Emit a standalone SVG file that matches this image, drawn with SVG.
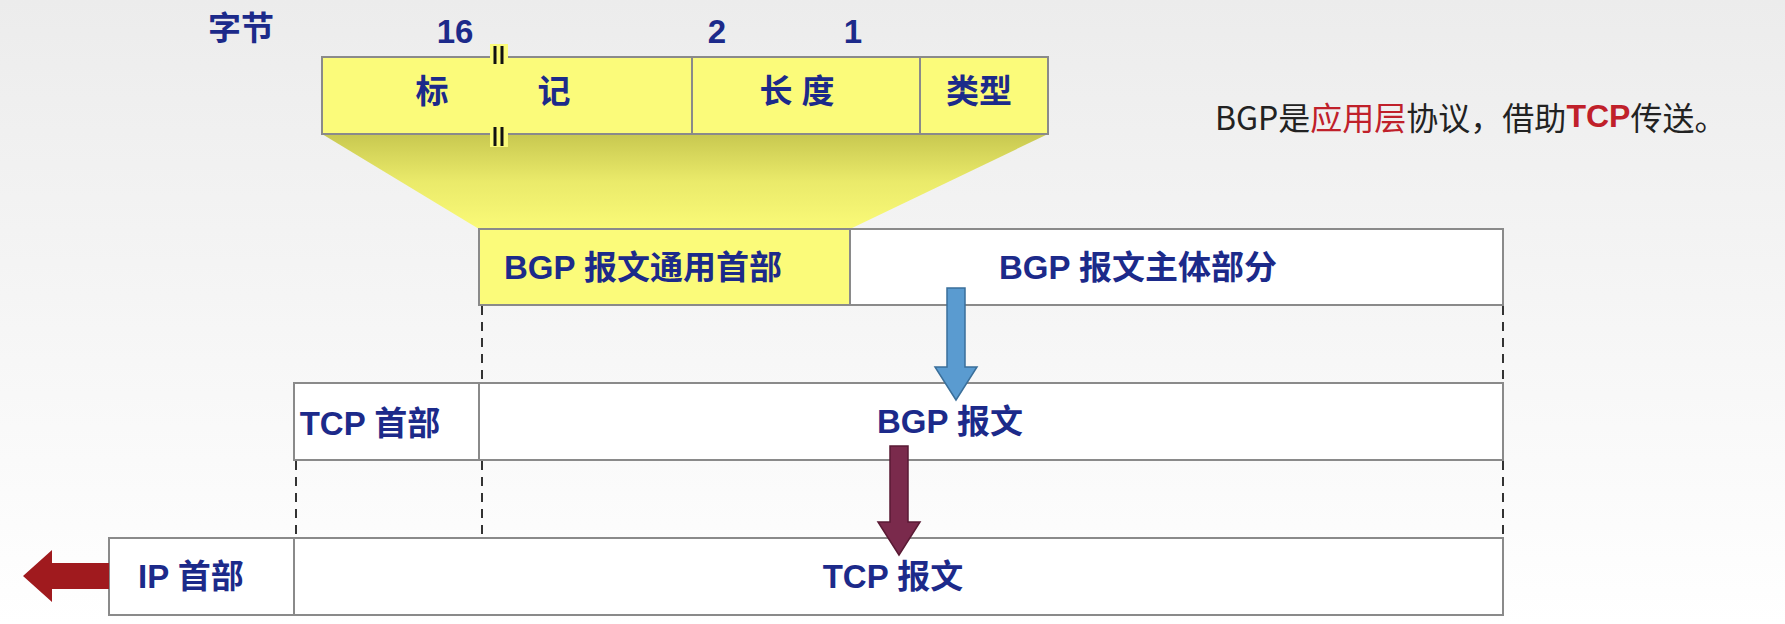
<svg xmlns="http://www.w3.org/2000/svg" width="1785" height="624" viewBox="0 0 1785 624">
<defs>
<linearGradient id="bg" x1="0" y1="0" x2="0" y2="1"><stop offset="0" stop-color="#ececec"/><stop offset="1" stop-color="#ffffff"/></linearGradient>
<linearGradient id="trap" x1="0" y1="0" x2="0" y2="1"><stop offset="0" stop-color="#c8c850"/><stop offset="0.5" stop-color="#eaea6a"/><stop offset="1" stop-color="#fafa78"/></linearGradient>
</defs>
<style>
.t{font-family:"Liberation Sans","Noto Sans CJK SC",sans-serif;font-weight:bold;fill:#1c2a8a;font-size:33px;text-anchor:middle;dominant-baseline:central}
.box{stroke:#8a8a8a;stroke-width:2}
.dash{stroke:#333;stroke-width:2;stroke-dasharray:9,7}
.n{font-family:"Noto Sans CJK SC",sans-serif;font-size:32px;fill:#222;dominant-baseline:central}
</style>
<rect width="1785" height="624" fill="url(#bg)"/>
<text class="t" x="241" y="28">字节</text>
<text class="t" x="455" y="31">16</text>
<text class="t" x="717" y="31">2</text>
<text class="t" x="853" y="31">1</text>
<polygon points="322,134 1048,134 850,229 479,229" fill="url(#trap)"/>
<g id="header-fields">
<rect class="box" x="322" y="57" width="726" height="77" fill="#fbfb7a"/>
<line class="box" x1="692" y1="57" x2="692" y2="134"/>
<line class="box" x1="920" y1="57" x2="920" y2="134"/>
<rect x="490" y="44" width="18" height="20" fill="#fbfb7a"/>
<rect x="490" y="127" width="18" height="20" fill="#fbfb7a"/>
<g stroke="#111" stroke-width="3"><line x1="495" y1="46" x2="495" y2="64"/><line x1="502" y1="46" x2="502" y2="64"/><line x1="495" y1="127" x2="495" y2="146"/><line x1="502" y1="127" x2="502" y2="146"/></g>
<text class="t" x="432" y="91">标</text>
<text class="t" x="554" y="91">记</text>
<text class="t" x="797" y="91">长 度</text>
<text class="t" x="979" y="91">类型</text>
</g>
<text class="n" x="1215" y="116">BGP是<tspan fill="#c0202a">应用层</tspan>协议，借助<tspan fill="#c0202a" font-weight="bold" font-family="Liberation Sans,sans-serif">TCP</tspan>传送。</text>
<g id="bgp-msg">
<rect class="box" x="479" y="229" width="1024" height="76" fill="#fff"/>
<rect class="box" x="479" y="229" width="371" height="76" fill="#fbfb7a"/>
<text class="t" x="643" y="267">BGP 报文通用首部</text>
<text class="t" x="1138" y="267">BGP 报文主体部分</text>
</g>
<g id="tcp-msg">
<rect class="box" x="294" y="383" width="1209" height="77" fill="#fff"/>
<line class="box" x1="479" y1="383" x2="479" y2="460"/>
<text class="t" x="370" y="423">TCP 首部</text>
<text class="t" x="950" y="421">BGP 报文</text>
</g>
<g id="ip-msg">
<rect class="box" x="109" y="538" width="1394" height="77" fill="#fff"/>
<line class="box" x1="294" y1="538" x2="294" y2="615"/>
<text class="t" x="191" y="576">IP 首部</text>
<text class="t" x="893" y="576">TCP 报文</text>
</g>
<g id="connectors">
<line class="dash" x1="482" y1="306" x2="482" y2="382"/>
<line class="dash" x1="1503" y1="306" x2="1503" y2="382"/>
<line class="dash" x1="296" y1="461" x2="296" y2="537"/>
<line class="dash" x1="482" y1="461" x2="482" y2="537"/>
<line class="dash" x1="1503" y1="461" x2="1503" y2="537"/>
<polygon points="947,288 965,288 965,367 977,367 956,400 935,367 947,367" fill="#5a9bd0" stroke="#3a6f9a" stroke-width="1.5"/>
<polygon points="890,446 908,446 908,522 920,522 899,555 878,522 890,522" fill="#7a2a4c" stroke="#5a1a34" stroke-width="1.5"/>
<polygon points="109,563 52,563 52,550 23,576 52,602 52,589 109,589" fill="#a01a1e"/>
</g>
</svg>
